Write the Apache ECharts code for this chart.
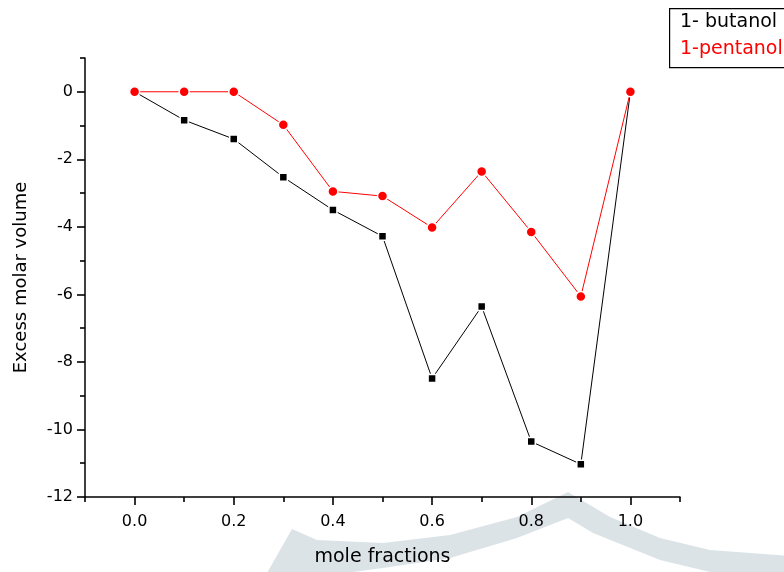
<!DOCTYPE html>
<html>
<head>
<meta charset="utf-8">
<script src="https://cdn.jsdelivr.net/npm/echarts@6/dist/echarts.min.js"></script>
<style>html,body{margin:0;padding:0;background:#fff}#c{width:784px;height:572px}</style>
</head>
<body>
<div id="c"></div>
<script>
const xValues = [0.0, 0.1, 0.2, 0.3, 0.4, 0.5, 0.6, 0.7, 0.8, 0.9, 1.0];
const butanol = [0, -0.84, -1.40, -2.53, -3.50, -4.28, -8.49, -6.36, -10.36, -11.03, 0];
const pentanol = [0, 0, 0, -0.98, -2.95, -3.09, -4.02, -2.36, -4.15, -6.06, 0];
const xMajorTicks = [0.0, 0.2, 0.4, 0.6, 0.8, 1.0];
const xMinorTicks = [-0.1, 0.1, 0.3, 0.5, 0.7, 0.9, 1.1];
const yMajorTicks = [-12, -10, -8, -6, -4, -2, 0];
const yMinorTicks = [-11, -9, -7, -5, -3, -1, 1];
const seriesNames = ['1- butanol', '1-pentanol'];

const font = '"DejaVu Sans", sans-serif';
const chart = echarts.init(document.getElementById('c'));
function tickAxis(min, max, values, len, pos) {
  return {
    type: 'value', min: min, max: max, position: pos,
    axisLine: {show: false, onZero: false},
    axisTick: {show: true, length: len, inside: false, customValues: values, lineStyle: {color: '#000', width: 1.6}},
    axisLabel: {show: false},
    splitLine: {show: false}
  };
}
chart.setOption({
  animation: false,
  grid: {left: 85, right: 104, top: 58, bottom: 74},
  xAxis: [{
    type: 'value', min: -0.1, max: 1.1, position: 'bottom',
    axisLine: {show: true, onZero: false, lineStyle: {color: '#000', width: 1.5}},
    axisTick: {show: false},
    axisLabel: {show: true, customValues: xMajorTicks, margin: 17, color: '#000', fontSize: 16, fontFamily: font,
      formatter: v => v.toFixed(1)},
    splitLine: {show: false},
    name: 'mole fractions', nameLocation: 'middle', nameGap: 51,
    nameTextStyle: {color: '#000', fontSize: 19, fontFamily: font}
  },
    tickAxis(-0.1, 1.1, xMajorTicks, 8, 'bottom'),
    tickAxis(-0.1, 1.1, xMinorTicks, 5, 'bottom')
  ],
  yAxis: [{
    type: 'value', min: -12, max: 1, position: 'left',
    axisLine: {show: true, onZero: false, lineStyle: {color: '#000', width: 1.5}},
    axisTick: {show: false},
    axisLabel: {show: true, customValues: yMajorTicks, margin: 12, color: '#000', fontSize: 16, fontFamily: font},
    splitLine: {show: false},
    name: 'Excess molar volume', nameLocation: 'middle', nameGap: 55, nameRotate: 90,
    nameTextStyle: {color: '#000', fontSize: 18, fontFamily: font}
  },
    tickAxis(-12, 1, yMajorTicks, 8, 'left'),
    tickAxis(-12, 1, yMinorTicks, 5, 'left')
  ],
  series: [{
    name: seriesNames[0], type: 'line', xAxisIndex: 0, yAxisIndex: 0,
    data: xValues.map((x, i) => [x, butanol[i]]),
    symbol: 'rect', symbolSize: 8,
    itemStyle: {color: '#000', borderColor: '#fff', borderWidth: 1.5},
    lineStyle: {color: '#000', width: 1}, z: 2
  }, {
    name: seriesNames[1], type: 'line', xAxisIndex: 0, yAxisIndex: 0,
    data: xValues.map((x, i) => [x, pentanol[i]]),
    symbol: 'circle', symbolSize: 10,
    itemStyle: {color: '#ff0000', borderColor: '#fff', borderWidth: 1.5},
    lineStyle: {color: '#ff0000', width: 1}, z: 3
  }],
  graphic: [{
    type: 'polygon', z: -10, silent: true,
    shape: {points: [[263, 580], [292, 529], [317, 540], [383, 543], [450, 535], [517, 517], [568, 492],
      [610, 517], [660, 538], [710, 550], [790, 556], [790, 595], [710, 572], [660, 560], [593, 533],
      [568, 518], [517, 538], [450, 558], [383, 568], [330, 575], [300, 590]]},
    style: {fill: '#dce3e7'}
  }, {
    type: 'rect', left: 669, top: 8, z: 10,
    shape: {width: 130, height: 59},
    style: {fill: '#fff', stroke: '#000', lineWidth: 1.2}
  }, {
    type: 'text', left: 680, top: 13, z: 11,
    style: {text: seriesNames[0], fill: '#000', font: '19px ' + font}
  }, {
    type: 'text', left: 680, top: 40, z: 11,
    style: {text: seriesNames[1], fill: '#ff0000', font: '19px ' + font}
  }]
});
</script>
</body>
</html>
